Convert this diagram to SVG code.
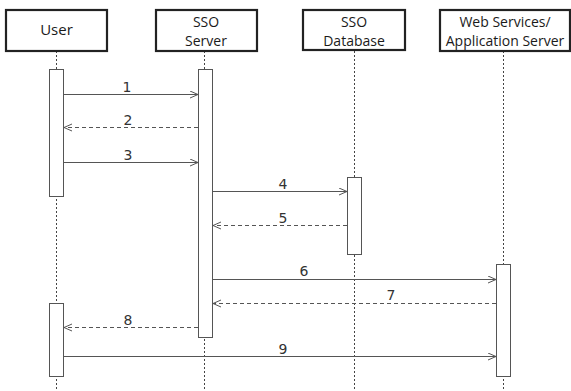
<svg xmlns="http://www.w3.org/2000/svg" width="571" height="391" viewBox="0 0 571 391">
<style>
.box{fill:#fff;stroke:#222;stroke-width:2.2}
.name{font-family:"Open Sans","Liberation Sans",sans-serif;font-size:14px;fill:#1a1a1a;text-anchor:middle}
.user{font-size:15px}
.life{stroke:#444;stroke-width:1;stroke-dasharray:2,2;fill:none}
.act{fill:#fff;stroke:#555;stroke-width:1}
.msg{stroke:#555;stroke-width:1;fill:none}
.ret{stroke:#555;stroke-width:1;fill:none;stroke-dasharray:4,3}
.num{font-family:"DejaVu Sans","Liberation Sans",sans-serif;font-size:14px;fill:#333;text-anchor:middle}
</style>
<defs>
<marker id="ah" markerWidth="10" markerHeight="10" refX="8" refY="4" orient="auto" markerUnits="userSpaceOnUse">
<path d="M0,0.5 L8,4 L0,7.5" fill="none" stroke="#555" stroke-width="1"/>
</marker>
</defs>
<rect width="571" height="391" fill="#fff"/>
<g id="user">
<line class="life" x1="56.5" y1="51" x2="56.5" y2="391"/>
<rect class="box" x="6" y="10" width="101" height="41"/>
<text class="name user" x="56.5" y="35">User</text>
<rect class="act" x="49.5" y="69.5" width="14" height="127"/>
<rect class="act" x="49.5" y="303.5" width="14" height="73"/>
</g>
<g id="sso-server">
<line class="life" x1="204.5" y1="51" x2="204.5" y2="391"/>
<rect class="box" x="156" y="10" width="101" height="41"/>
<text class="name" x="206" y="27">SSO</text>
<text class="name" x="206" y="46">Server</text>
<rect class="act" x="198.5" y="69.5" width="14" height="268"/>
</g>
<g id="sso-database">
<line class="life" x1="354.5" y1="51" x2="354.5" y2="391"/>
<rect class="box" x="303" y="10" width="102" height="40"/>
<text class="name" x="354" y="27">SSO</text>
<text class="name" x="354" y="46">Database</text>
<rect class="act" x="347.5" y="177.5" width="14" height="77"/>
</g>
<g id="web-services">
<line class="life" x1="503.5" y1="51" x2="503.5" y2="391"/>
<rect class="box" x="440" y="10" width="130" height="41"/>
<text class="name" x="505" y="27">Web Services/</text>
<text class="name" x="505" y="46">Application Server</text>
<rect class="act" x="496.5" y="264.5" width="14" height="112"/>
</g>
<g id="connectors">
<line class="msg" x1="64" y1="94.5" x2="198" y2="94.5" marker-end="url(#ah)"/>
<text class="num" x="127" y="92">1</text>
<line class="ret" x1="198" y1="127.5" x2="64" y2="127.5" marker-end="url(#ah)"/>
<text class="num" x="128" y="125">2</text>
<line class="msg" x1="64" y1="162.5" x2="198" y2="162.5" marker-end="url(#ah)"/>
<text class="num" x="128" y="160">3</text>
<line class="msg" x1="213" y1="191.5" x2="347" y2="191.5" marker-end="url(#ah)"/>
<text class="num" x="283" y="189">4</text>
<line class="ret" x1="347" y1="225.5" x2="213" y2="225.5" marker-end="url(#ah)"/>
<text class="num" x="283" y="223">5</text>
<line class="msg" x1="213" y1="279.5" x2="496" y2="279.5" marker-end="url(#ah)"/>
<text class="num" x="304" y="276">6</text>
<line class="ret" x1="496" y1="303.5" x2="213" y2="303.5" marker-end="url(#ah)"/>
<text class="num" x="391" y="300">7</text>
<line class="ret" x1="198" y1="327.5" x2="64" y2="327.5" marker-end="url(#ah)"/>
<text class="num" x="128" y="325">8</text>
<line class="msg" x1="64" y1="356.5" x2="496" y2="356.5" marker-end="url(#ah)"/>
<text class="num" x="283" y="354">9</text>
</g>
</svg>
